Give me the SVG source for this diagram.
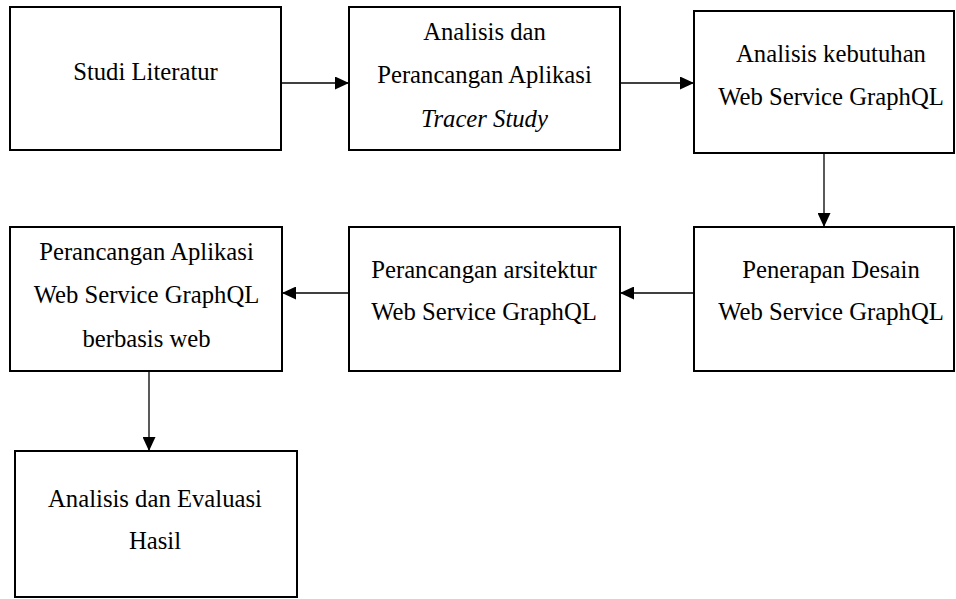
<svg xmlns="http://www.w3.org/2000/svg" width="956" height="599" viewBox="0 0 956 599">
<style>
.box{fill:#fff;stroke:#000;stroke-width:2}
.t{font-family:'Liberation Serif',serif;font-size:24.7px;fill:#000;text-anchor:middle}
.i{font-style:italic}
.c{stroke:#000;stroke-width:1.3;fill:none}
</style>
<defs>
<marker id="ah" markerUnits="userSpaceOnUse" markerWidth="15" markerHeight="13" refX="14" refY="6.5" orient="auto">
<path d="M0,0 L14,6.5 L0,13 Z" fill="#000"/>
</marker>
</defs>
<g id="connectors">
<line class="c" x1="281" y1="83" x2="349" y2="83" marker-end="url(#ah)"/>
<line class="c" x1="620" y1="83" x2="694" y2="83" marker-end="url(#ah)"/>
<line class="c" x1="824" y1="153" x2="824" y2="227" marker-end="url(#ah)"/>
<line class="c" x1="694" y1="293" x2="620" y2="293" marker-end="url(#ah)"/>
<line class="c" x1="349" y1="293" x2="282" y2="293" marker-end="url(#ah)"/>
<line class="c" x1="149" y1="371" x2="149" y2="451" marker-end="url(#ah)"/>
</g>
<g id="n1">
<rect class="box" x="10" y="7" width="271" height="143"/>
<text class="t" x="145.5" y="80">Studi Literatur</text>
</g>
<g id="n2">
<rect class="box" x="349" y="7" width="271" height="143"/>
<text class="t" x="484.5" y="40">Analisis dan</text>
<text class="t" x="484.5" y="83">Perancangan Aplikasi</text>
<text class="t i" x="484.5" y="127">Tracer Study</text>
</g>
<g id="n3">
<rect class="box" x="694" y="11" width="260" height="142"/>
<text class="t" x="831" y="62">Analisis kebutuhan</text>
<text class="t" x="831" y="105">Web Service GraphQL</text>
</g>
<g id="n4">
<rect class="box" x="694" y="227" width="260" height="144"/>
<text class="t" x="831" y="278">Penerapan Desain</text>
<text class="t" x="831" y="320">Web Service GraphQL</text>
</g>
<g id="n5">
<rect class="box" x="349" y="227" width="271" height="144"/>
<text class="t" x="484" y="278">Perancangan arsitektur</text>
<text class="t" x="484" y="320">Web Service GraphQL</text>
</g>
<g id="n6">
<rect class="box" x="10" y="227" width="272" height="144"/>
<text class="t" x="146.5" y="260">Perancangan Aplikasi</text>
<text class="t" x="146.5" y="303">Web Service GraphQL</text>
<text class="t" x="146.5" y="347">berbasis web</text>
</g>
<g id="n7">
<rect class="box" x="15" y="451" width="282" height="146"/>
<text class="t" x="155" y="507">Analisis dan Evaluasi</text>
<text class="t" x="155" y="549">Hasil</text>
</g>
</svg>
